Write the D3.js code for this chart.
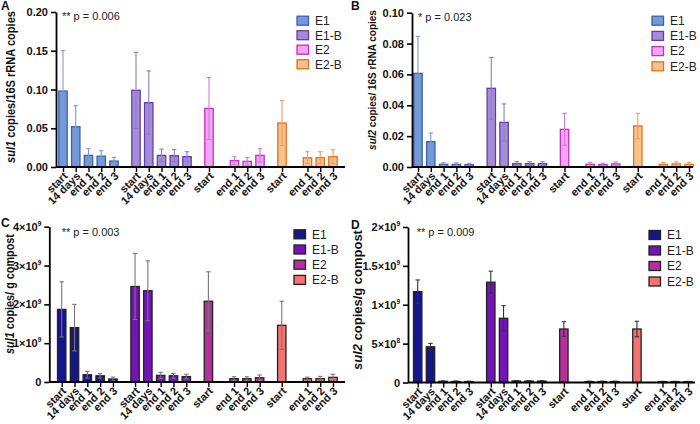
<!DOCTYPE html>
<html><head><meta charset="utf-8">
<script src="https://cdn.jsdelivr.net/npm/d3@7/dist/d3.min.js"></script>
<style>
body{margin:0;background:#fff}
svg{display:block;font-family:Arial,"Liberation Sans",sans-serif}
</style>
</head><body>
<svg id="chart" width="700" height="424"></svg>
<script>
// ---------- data ----------
const groups = ["E1", "E1-B", "E2", "E2-B"];
const timepoints = ["start", "14 days", "end 1", "end 2", "end 3"];

// A: sul1 copies / 16S rRNA copies (mean, sd) per group x timepoint
const sul1RatioMean = [
  [0.098, 0.052, 0.015, 0.014, 0.0077],
  [0.099, 0.083, 0.015, 0.0146, 0.0133],
  [0.0755, null, 0.0082, 0.0073, 0.015],
  [0.0567, null, 0.012, 0.012, 0.0133]
];
const sul1RatioSd = [
  [0.052, 0.027, 0.0086, 0.007, 0.0047],
  [0.049, 0.041, 0.008, 0.008, 0.0064],
  [0.040, null, 0.005, 0.0047, 0.0086],
  [0.029, null, 0.0077, 0.0077, 0.009]
];
// B: sul2 copies / 16S rRNA copies
const sul2RatioMean = [
  [0.0607, 0.0164, 0.0017, 0.0017, 0.0015],
  [0.051, 0.0289, 0.0022, 0.0022, 0.0022],
  [0.0244, null, 0.0017, 0.0015, 0.002],
  [0.0266, null, 0.0017, 0.002, 0.0017]
];
const sul2RatioSd = [
  [0.024, 0.0056, 0.0011, 0.001, 0.0009],
  [0.020, 0.012, 0.0013, 0.0013, 0.0012],
  [0.0104, null, 0.0013, 0.001, 0.0013],
  [0.0082, null, 0.0013, 0.0013, 0.0013]
];
// C: sul1 copies / g compost
const sul1CompostMean = [
  [1.87e9, 1.40e9, 0.187e9, 0.16e9, 0.077e9],
  [2.46e9, 2.35e9, 0.17e9, 0.16e9, 0.14e9],
  [2.08e9, null, 0.085e9, 0.085e9, 0.11e9],
  [1.46e9, null, 0.085e9, 0.085e9, 0.12e9]
];
const sul1CompostSd = [
  [0.71e9, 0.60e9, 0.085e9, 0.06e9, 0.05e9],
  [0.85e9, 0.77e9, 0.08e9, 0.06e9, 0.06e9],
  [0.76e9, null, 0.05e9, 0.05e9, 0.07e9],
  [0.62e9, null, 0.04e9, 0.06e9, 0.08e9]
];
// D: sul2 copies / g compost
const sul2CompostMean = [
  [1.169e9, 0.459e9, 0.015e9, 0.013e9, 0.012e9],
  [1.29e9, 0.826e9, 0.02e9, 0.018e9, 0.018e9],
  [0.688e9, null, 0.012e9, 0.012e9, 0.012e9],
  [0.688e9, null, 0.01e9, 0.01e9, 0.01e9]
];
const sul2CompostSd = [
  [0.15e9, 0.044e9, 0.006e9, 0.006e9, 0.005e9],
  [0.142e9, 0.162e9, 0.006e9, 0.006e9, 0.006e9],
  [0.094e9, null, 0.005e9, 0.005e9, 0.005e9],
  [0.10e9, null, 0.005e9, 0.005e9, 0.005e9]
];

const ticksA = [0, 0.05, 0.10, 0.15, 0.20];
const tickLabelsA = ["0.00", "0.05", "0.10", "0.15", "0.20"];
const ticksB = [0, 0.02, 0.04, 0.06, 0.08, 0.10];
const tickLabelsB = ["0.00", "0.02", "0.04", "0.06", "0.08", "0.10"];
const ticksC = [0, 1e9, 2e9, 3e9, 4e9];
const tickLabelsC = ["0", "1×10^9", "2×10^9", "3×10^9", "4×10^9"];
const ticksD = [0, 0.5e9, 1e9, 1.5e9, 2e9];
const tickLabelsD = ["0", "5×10^8", "1×10^9", "1.5×10^9", "2×10^9"];

const pValues = ["** p = 0.006", "* p = 0.023", "** p = 0.003", "** p = 0.009"];

// ---------- styles ----------
const lightFill = ["#7399d8", "#a68bd9", "#f2a5f2", "#f8c38a"];
const lightStroke = ["#3b62b2", "#5f3fb0", "#c52ec5", "#f06c1c"];
const lightErr = ["#8398c8", "#8f7ac4", "#d17bd1", "#f29a5e"];
const darkFill = ["#15158c", "#7414b8", "#b5309c", "#f37272"];
const darkStroke = ["#222", "#222", "#222", "#222"];

const svg = d3.select("#chart");
const GAP = 0.725;
const slotPos = (gi, ti) => gi * (5 + GAP) + ti;
const FONT = "Arial, 'Liberation Sans', sans-serif";

function drawPanel(p) {
  const g = svg.append("g");
  const x = d3.scaleLinear().domain([0, slotPos(3, 4)]).range([p.bar0, p.bar1]);
  const y = d3.scaleLinear().domain([0, p.max]).range([p.y0, p.y1]);
  const data = [];
  groups.forEach((gr, gi) => timepoints.forEach((t, ti) => {
    const m = p.mean[gi][ti];
    if (m == null) return;
    data.push({gi, ti, t, m, sd: p.sd[gi][ti], pos: slotPos(gi, ti)});
  }));

  // bars
  const bw = 8.4;
  g.selectAll("rect.bar").data(data).join("rect")
    .attr("x", d => x(d.pos) - bw / 2)
    .attr("y", d => y(d.m))
    .attr("width", bw)
    .attr("height", d => y(0) - y(d.m))
    .attr("fill", d => p.fill[d.gi])
    .attr("stroke", d => p.stroke[d.gi])
    .attr("stroke-width", 1.3);

  // error bars
  const eb = g.selectAll("g.err").data(data).join("g")
    .attr("stroke", d => p.err[d.gi]).attr("stroke-width", 1.1).attr("fill", "none");
  eb.append("line").attr("x1", d => x(d.pos)).attr("x2", d => x(d.pos))
    .attr("y1", d => y(Math.max(0, d.m - d.sd))).attr("y2", d => y(d.m + d.sd));
  eb.append("line").attr("x1", d => x(d.pos) - 2.2).attr("x2", d => x(d.pos) + 2.2)
    .attr("y1", d => y(d.m + d.sd)).attr("y2", d => y(d.m + d.sd));
  eb.append("line").attr("x1", d => x(d.pos) - 2.2).attr("x2", d => x(d.pos) + 2.2)
    .attr("y1", d => y(Math.max(0, d.m - d.sd))).attr("y2", d => y(Math.max(0, d.m - d.sd)));

  // x axis
  const xa = g.append("g").attr("transform", `translate(0,${p.y0})`)
    .call(d3.axisBottom(x).tickValues(data.map(d => d.pos)).tickFormat((v, i) => data[i].t)
      .tickSize(5).tickSizeOuter(0));
  xa.select(".domain").remove();
  xa.selectAll(".tick line").attr("stroke", "#000").attr("stroke-width", 1.4);
  xa.selectAll(".tick text")
    .attr("y", null).attr("dy", "0.35em")
    .attr("transform", "translate(2,7) rotate(-45)")
    .attr("text-anchor", "end")
    .attr("font-size", 11).attr("font-weight", "bold").attr("fill", "#111")
    .attr("font-family", FONT);
  g.append("line").attr("x1", p.axisX).attr("x2", p.xEnd).attr("y1", p.y0).attr("y2", p.y0)
    .attr("stroke", "#000").attr("stroke-width", 1.8);

  // y axis
  const ya = g.append("g").attr("transform", `translate(${p.axisX},0)`)
    .call(d3.axisLeft(y).tickValues(p.ticks).tickSize(5).tickSizeOuter(0).tickPadding(3).tickFormat(""));
  ya.select(".domain").attr("stroke-width", 1.8);
  ya.selectAll(".tick line").attr("stroke-width", 1.6);
  ya.selectAll(".tick text").each(function(v, i) {
    const t = d3.select(this)
      .attr("font-size", 11).attr("font-weight", "bold").attr("fill", "#111")
      .attr("font-family", FONT);
    const parts = p.tickLabels[i].split("^");
    t.append("tspan").text(parts[0]);
    if (parts[1]) t.append("tspan").attr("font-size", 6.5).attr("dy", "-0.75em").text(parts[1]);
  });

  // y title: larger glyphs, condensed to the measured length in the reference
  const yt = g.append("text")
    .attr("text-anchor", "middle").attr("font-weight", "bold")
    .attr("font-size", p.titleSize).attr("fill", "#111");
  yt.append("tspan").attr("font-style", "italic").text(p.gene);
  yt.append("tspan").text(p.titleRest);
  const len = yt.node().getComputedTextLength();
  yt.attr("transform", `translate(${p.titleX},${p.titleY}) rotate(-90) scale(${p.titleLen / len},1)`);

  // panel letter
  g.append("text").attr("x", p.letterX).attr("y", p.letterY).text(p.letter)
    .attr("font-weight", "bold").attr("font-size", 12).attr("fill", "#111");

  // p value
  g.append("text").attr("x", p.pX).attr("y", p.pY).text(p.pText)
    .attr("font-size", 11).attr("fill", "#222");

  // legend
  const lg = g.selectAll("g.leg").data(groups).join("g")
    .attr("transform", (d, i) => `translate(${p.legX},${p.legY + i * p.legStep})`);
  lg.append("rect").attr("x", 0).attr("y", -4.5).attr("width", 11.5).attr("height", 9)
    .attr("fill", (d, i) => p.fill[i]).attr("stroke", (d, i) => p.stroke[i]).attr("stroke-width", 1.3);
  lg.append("text").attr("x", 18).attr("y", 0).attr("dy", "0.36em").text(d => d)
    .attr("font-size", 12).attr("fill", "#222");
}

drawPanel({letter: "A", letterX: 1, letterY: 10, mean: sul1RatioMean, sd: sul1RatioSd, max: 0.2,
  ticks: ticksA, tickLabels: tickLabelsA, axisX: 56, xEnd: 345, bar0: 63, bar1: 333, y0: 167, y1: 12,
  fill: lightFill, stroke: lightStroke, err: lightErr,
  gene: "sul1", titleRest: " copies/16S rRNA copies", titleX: 15, titleY: 87, titleLen: 152, titleSize: 12.5,
  pX: 62, pY: 20, pText: pValues[0], legX: 297, legY: 20.7, legStep: 14.5});

drawPanel({letter: "B", letterX: 351, letterY: 10, mean: sul2RatioMean, sd: sul2RatioSd, max: 0.1,
  ticks: ticksB, tickLabels: tickLabelsB, axisX: 412, xEnd: 693, bar0: 418, bar1: 689, y0: 167, y1: 12.7,
  fill: lightFill, stroke: lightStroke, err: lightErr,
  gene: "sul2", titleRest: " copies/ 16S rRNA copies", titleX: 376, titleY: 80, titleLen: 140, titleSize: 11.5,
  pX: 418, pY: 21, pText: pValues[1], legX: 652, legY: 20.7, legStep: 15.2});

drawPanel({letter: "C", letterX: 1, letterY: 227, mean: sul1CompostMean, sd: sul1CompostSd, max: 4e9,
  ticks: ticksC, tickLabels: tickLabelsC, axisX: 49.3, xEnd: 345, bar0: 61.7, bar1: 333, y0: 382, y1: 226.7,
  fill: darkFill, stroke: darkStroke, err: ["#777", "#777", "#777", "#777"],
  gene: "sul1", titleRest: " copies/ g compost", titleX: 14, titleY: 294, titleLen: 120, titleSize: 12.5,
  pX: 61.7, pY: 236, pText: pValues[2], legX: 294, legY: 234.3, legStep: 15.2});

drawPanel({letter: "D", letterX: 351, letterY: 229, mean: sul2CompostMean, sd: sul2CompostSd, max: 2e9,
  ticks: ticksD, tickLabels: tickLabelsD, axisX: 408, xEnd: 695, bar0: 417.7, bar1: 688, y0: 382.5, y1: 227,
  fill: darkFill, stroke: darkStroke, err: ["#333", "#333", "#333", "#333"],
  gene: "sul2", titleRest: " copies/g compost", titleX: 362, titleY: 300, titleLen: 140, titleSize: 13.5,
  pX: 416.7, pY: 236, pText: pValues[3], legX: 649, legY: 235, legStep: 15.5});
</script>
</body></html>
